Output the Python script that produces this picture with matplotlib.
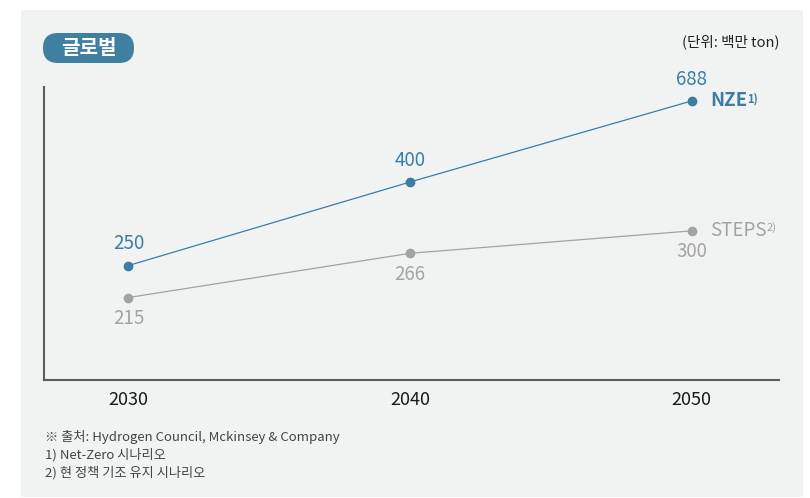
import numpy as np
import matplotlib
matplotlib.use("Agg")
import matplotlib.pyplot as plt
from matplotlib.patches import Rectangle, FancyBboxPatch
from matplotlib.transforms import IdentityTransform

plt.rcParams['font.family'] = ['Noto Sans CJK KR', 'DejaVu Sans']

# Data (백만 ton)
years = [2030, 2040, 2050]
nze = [250, 400, 688]
steps = [215, 266, 300]
series_names = ["NZE", "STEPS"]
series_notes = ["1)", "2)"]
footnotes = [
    "※ 출처: Hydrogen Council, Mckinsey & Company",
    "1) Net-Zero 시나리오",
    "2) 현 정책 기조 유지 시나리오",
]

BLUE = "#3b7ea3"
GRAY = "#a3a3a3"
PANEL = "#f1f2f2"

W, H = 810, 498
fig = plt.figure(figsize=(W / 100, H / 100), dpi=100, facecolor="white")

# light panel behind the chart
fig.patches.append(Rectangle((21 / W, 1 - 497 / H), (803 - 21) / W, (497 - 10) / H,
                             transform=fig.transFigure, facecolor=PANEL,
                             edgecolor="none", zorder=-10))

ax = fig.add_axes([44 / W, 1 - 380 / H, (779 - 44) / W, (380 - 87) / H])
ax.set_facecolor("none")
ax.set_zorder(5)


def fwd(v):
    return np.log10(np.maximum(np.asarray(v, dtype=float) - 100, 1e-3))


def inv(f):
    return 10 ** np.asarray(f, dtype=float) + 100


ax.set_yscale("function", functions=(fwd, inv))
ax.set_xlim(2027.0, 2053.1)
ax.set_ylim(158, 760)

ax.plot(years, nze, color=BLUE, lw=0.9, marker="o", ms=6, zorder=3)
ax.plot(years, steps, color=GRAY, lw=0.9, marker="o", ms=6, zorder=3)

for x, v in zip(years, nze):
    ax.annotate(f"{v}", (x, v), xytext=(0, 15.5), textcoords="offset points",
                ha="center", va="center", fontsize=13.5, color=BLUE)
for x, v in zip(years, steps):
    ax.annotate(f"{v}", (x, v), xytext=(0, -15), textcoords="offset points",
                ha="center", va="center", fontsize=13.5, color=GRAY)

# series names at the line ends
for name, note, vals, col, wt in zip(series_names, series_notes, [nze, steps],
                                     [BLUE, GRAY], ["bold", "normal"]):
    t = ax.annotate(name, (years[-1], vals[-1]), xytext=(13, 0),
                    textcoords="offset points", ha="left", va="center",
                    fontsize=13.5, color=col, fontweight=wt)
    ax.annotate(note, xy=(1, 1), xycoords=t, xytext=(0.3, -1),
                textcoords="offset points", ha="left", va="top",
                fontsize=8, color=col, fontweight=wt)

ax.set_xticks(years)
ax.set_xticklabels([str(y) for y in years], fontsize=13, color="#1a1a1a")
ax.tick_params(axis="x", length=0, pad=8)
ax.set_yticks([])
ax.yaxis.set_minor_locator(matplotlib.ticker.NullLocator())
ax.tick_params(axis="y", which="both", length=0, labelleft=False)
for s in ["top", "right"]:
    ax.spines[s].set_visible(False)
for s in ["left", "bottom"]:
    ax.spines[s].set_color("#5c5c5c")
    ax.spines[s].set_linewidth(1.5)

# region tag
fig.add_artist(FancyBboxPatch((43, H - 63), 91, 30,
                              boxstyle="round,pad=0,rounding_size=15",
                              transform=IdentityTransform(),
                              facecolor="#3f7fa0", edgecolor="none", zorder=2))
fig.text(88.5 / W, 1 - 48 / H, "글로벌", ha="center", va="center",
         fontsize=14.5, fontweight="bold", color="white", zorder=3)

fig.text(779 / W, 1 - 42 / H, "(단위: 백만 ton)", ha="right", va="center",
         fontsize=10.5, color="#222222")

for i, line in enumerate(footnotes):
    fig.text(45 / W, 1 - (437 + 18 * i) / H, line, ha="left", va="center",
             fontsize=9.5, color="#444444")

fig.savefig("out.png", dpi=100, facecolor="white")
